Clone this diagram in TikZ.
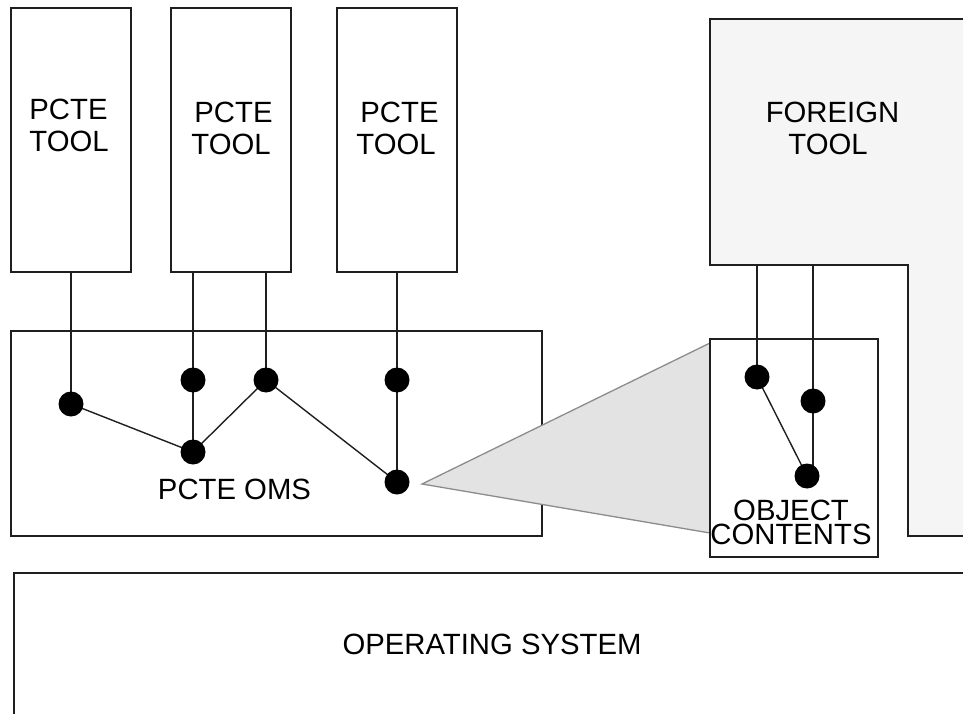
\documentclass[tikz,border=0pt]{standalone}
\usepackage{fontspec}
\setmainfont{Liberation Sans}
\begin{document}
\begin{tikzpicture}[x=1pt,y=-1pt,
  box/.style={draw=black!88, line width=1.8pt, rectangle, inner sep=0pt},
  wire/.style={draw=black!88, line width=1.5pt},
  dot/.style={circle, fill=black, minimum size=25pt, inner sep=0pt},
  lbl/.style={font=\fontsize{29.3}{32}\selectfont, inner sep=0pt, anchor=base}]

\useasboundingbox[fill=white] (0,0) rectangle (963,714);

% foreign tool and operating system run off the right and bottom edges
\begin{scope}
  \clip (0,0) rectangle (963,714);
  \fill[black!4] (710,19) -- (975,19) -- (975,536) -- (908,536)
                 -- (908,265) -- (710,265) -- cycle;
  \draw[draw=black!88, line width=1.8pt]
        (975,19) -- (710,19) -- (710,265) -- (908,265) -- (908,536) -- (975,536);
  \draw[draw=black!88, line width=2.2pt] (975,573) -- (14,573) -- (14,725);
\end{scope}
\coordinate (fbot) at (758,265);

% tool boxes
\node[box, minimum width=120pt, minimum height=264pt] (tool1) at (71,140) {};
\node[box, minimum width=120pt, minimum height=264pt] (tool2) at (231,140) {};
\node[box, minimum width=120pt, minimum height=264pt] (tool3) at (397,140) {};

% object management system
\node[box, minimum width=531pt, minimum height=205pt] (oms) at (276.5,433.5) {};

% zoom wedge towards the object contents
\fill[black!11] (422,484) -- (710,343) -- (710,533) -- cycle;
\draw[draw=black!45, line width=1.3pt] (710,343) -- (422,484) -- (710,533);

% object contents
\node[box, minimum width=168pt, minimum height=218pt] (obj) at (794,448) {};

% dot positions
\coordinate (d1) at (71,404);
\coordinate (d2) at (193,380);
\coordinate (d3) at (193,452);
\coordinate (d4) at (266,380);
\coordinate (d5) at (397,380);
\coordinate (d6) at (397,482);
\coordinate (f1) at (757,377);
\coordinate (f2) at (813,401);
\coordinate (f3) at (807,476);

% links from the tools down into the object base
\draw[wire] (d1 |- tool1.south) -- (d1);
\draw[wire] (d2 |- tool2.south) -- (d2) -- (d3);
\draw[wire] (d4 |- tool2.south) -- (d4);
\draw[wire] (d5 |- tool3.south) -- (d5) -- (d6);
\draw[wire, line width=1.4pt] (d1) -- (d3) -- (d4) -- (d6);
\draw[wire] (f1 |- fbot) -- (f1);
\draw[wire, line width=1.4pt] (f1) -- (f3);
\draw[wire] (f2 |- fbot) -- (f2) -- (f2 |- f3);

% objects
\foreach \p in {d1,d2,d3,d4,d5,d6,f1,f2,f3}
  \node[dot] (n\p) at (\p) {};

% labels
\node[lbl] (l1a) at (68.5,120) {PCTE};
\node[lbl] (l1b) at (69,152) {TOOL};
\node[lbl] (l2a) at (233.5,123) {PCTE};
\node[lbl] (l2b) at (231,155) {TOOL};
\node[lbl] (l3a) at (399.5,123) {PCTE};
\node[lbl] (l3b) at (396,155) {TOOL};
\node[lbl] (lfa) at (832.5,123) {FOREIGN};
\node[lbl] (lfb) at (828,155) {TOOL};
\node[lbl] (loms) at (234.5,499) {PCTE OMS};
\node[font=\fontsize{29.3}{24.5}\selectfont, inner sep=0pt, align=center,
      anchor=south] (lobj) at (791,545.4) {OBJECT\\CONTENTS};
\node[lbl] (los) at (492,654) {OPERATING SYSTEM};
\end{tikzpicture}
\end{document}
